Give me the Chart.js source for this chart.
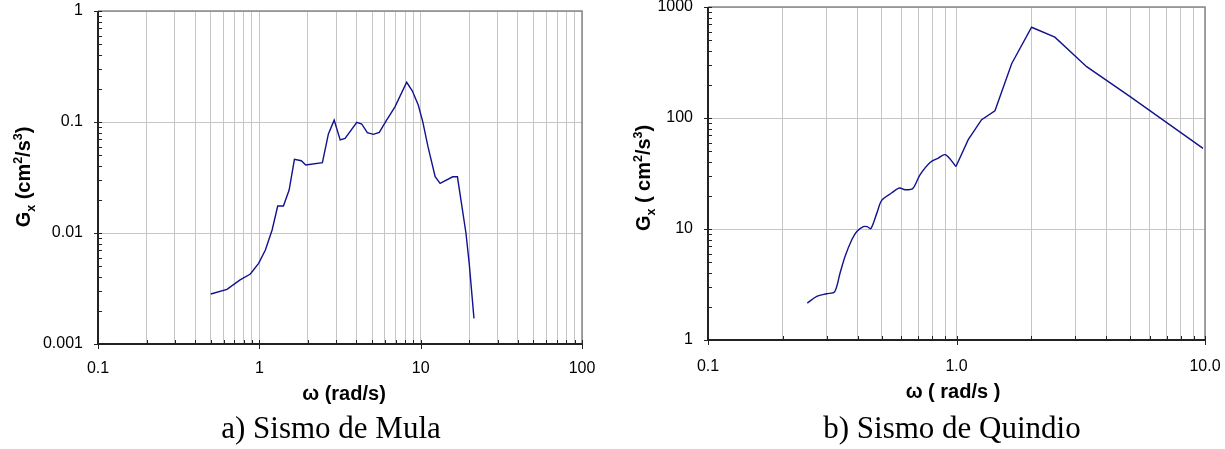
<!DOCTYPE html>
<html>
<head>
<meta charset="utf-8">
<script src="https://cdn.jsdelivr.net/npm/chart.js@4/dist/chart.umd.min.js"></script>
<style>
  body { margin: 0; background: #fff; width: 1225px; height: 449px; position: relative; overflow: hidden; }
  canvas { position: absolute; top: 0; }
  #mula { left: 0; }
  #quindio { left: 610px; }
  .caption {
    position: absolute; top: 412px; width: 400px; text-align: center; white-space: nowrap;
    font-family: "Liberation Serif", "Times New Roman", serif; font-size: 31px; line-height: 31px; color: #000;
  }
</style>
</head>
<body>
<canvas id="mula" width="610" height="449"></canvas>
<canvas id="quindio" width="615" height="449"></canvas>
<div class="caption" style="left:131px">a) Sismo de Mula</div>
<div class="caption" style="left:752px">b) Sismo de Quindio</div>
<script>
// Sismo de Mula: power spectrum Gx vs frequency
const mulaOmega = [0.50, 0.63, 0.76, 0.88, 0.99, 1.09, 1.20, 1.30, 1.41, 1.53, 1.65, 1.82, 1.94, 2.46, 2.68,
  2.91, 3.17, 3.40, 4.02, 4.31, 4.67, 5.09, 5.54, 6.15, 6.93, 8.19, 8.87, 9.66, 10.3, 11.1, 12.3, 13.2,
  15.8, 16.9, 17.9, 19.1, 20.0, 21.4];
const mulaGx = [0.00282, 0.00311, 0.00378, 0.00427, 0.00533, 0.00703, 0.01064, 0.0175, 0.0175, 0.0244, 0.0461,
  0.0448, 0.0410, 0.0430, 0.0780, 0.104, 0.0689, 0.0713, 0.0993, 0.0960, 0.0802, 0.0774, 0.0807, 0.104, 0.137,
  0.228, 0.191, 0.142, 0.1007, 0.060, 0.0321, 0.0280, 0.0321, 0.0321, 0.0185, 0.0099, 0.0053, 0.0017];

// Sismo de Quindio
const quindioOmega = [0.251, 0.274, 0.300, 0.323, 0.340, 0.356, 0.379, 0.397, 0.422, 0.437, 0.452, 0.478, 0.500,
  0.548, 0.589, 0.621, 0.667, 0.713, 0.783, 0.845, 0.902, 0.995, 1.115, 1.262, 1.428, 1.667, 2.005, 2.488,
  3.34, 4.98, 9.82];
const quindioGx = [2.15, 2.47, 2.61, 2.71, 4.02, 5.66, 8.0, 9.5, 10.5, 10.5, 10.07, 13.9, 18.1,
  21.1, 23.4, 22.6, 23.2, 30.8, 39.8, 43.6, 46.7, 36.6, 63.8, 96.5, 116.3, 308, 657, 535,
  290, 156.6, 53.3];

// axis decades and their labels
const mulaXDecades = [0.1, 1, 10, 100];
const mulaXLabels = ["0.1", "1", "10", "100"];
const mulaYDecades = [0.001, 0.01, 0.1, 1];
const mulaYLabels = ["0.001", "0.01", "0.1", "1"];
const quindioXDecades = [0.1, 1, 10];
const quindioXLabels = ["0.1", "1.0", "10.0"];
const quindioYDecades = [1, 10, 100, 1000];
const quindioYLabels = ["1", "10", "100", "1000"];

const LINE_COLOR = "#12128e";
const GRID_COLOR = "#c6c6c6";
const SANS = '"Liberation Sans", Arial, sans-serif';

function logTicks(decades) {
    let out = [];
    for (let i = 0; i < decades.length; i++) {
        out.push(decades[i]);
        if (i < decades.length - 1) {
            for (let k = 2; k <= 9; k++) out.push(+(decades[i] * k).toPrecision(3));
        }
    }
    return out;
}

function decadeIndex(decades, v) {
    return decades.findIndex(d => Math.abs(d - v) / d < 1e-6);
}

// text with sub/superscripts, centred on (cx, cy)
function drawRich(ctx, parts, cx, cy, angle, size) {
    const small = size * 0.62;
    ctx.save();
    ctx.translate(cx, cy);
    ctx.rotate(angle);
    ctx.fillStyle = "#000";
    ctx.textBaseline = "alphabetic";
    ctx.textAlign = "left";
    let w = 0;
    parts.forEach(p => {
        ctx.font = "bold " + (p.s ? small : size) + "px " + SANS;
        w += ctx.measureText(p.t).width;
    });
    let x = -w / 2;
    parts.forEach(p => {
        ctx.font = "bold " + (p.s ? small : size) + "px " + SANS;
        let dy = p.s === "sub" ? size * 0.22 : p.s === "sup" ? -size * 0.42 : 0;
        ctx.fillText(p.t, x, size * 0.36 + dy);
        x += ctx.measureText(p.t).width;
    });
    ctx.restore();
}

const framePlugin = {
    id: "frame",
    afterDraw(chart, args, opts) {
        const ctx = chart.ctx;
        const a = chart.chartArea;
        const xs = chart.scales.x, ys = chart.scales.y;
        ctx.save();
        // top and right border
        ctx.strokeStyle = "#888";
        ctx.lineWidth = 1.5;
        ctx.beginPath();
        ctx.moveTo(a.left, a.top);
        ctx.lineTo(a.right, a.top);
        ctx.lineTo(a.right, a.bottom);
        ctx.stroke();
        // tick marks
        ctx.strokeStyle = "#222";
        ctx.lineWidth = 1;
        ctx.beginPath();
        ys.ticks.forEach(t => {
            const y = Math.round(ys.getPixelForValue(t.value)) + 0.5;
            const major = decadeIndex(opts.yDecades, t.value) >= 0;
            ctx.moveTo(a.left - (major ? 4 : 0), y);
            ctx.lineTo(a.left + 4, y);
        });
        xs.ticks.forEach(t => {
            const x = Math.round(xs.getPixelForValue(t.value)) + 0.5;
            const major = decadeIndex(opts.xDecades, t.value) >= 0;
            ctx.moveTo(x, a.bottom - 4);
            ctx.lineTo(x, a.bottom + (major ? 5 : 0));
        });
        ctx.stroke();
        // left and bottom axis
        ctx.strokeStyle = "#222";
        ctx.lineWidth = 2;
        ctx.beginPath();
        ctx.moveTo(a.left, a.top);
        ctx.lineTo(a.left, a.bottom);
        ctx.lineTo(a.right, a.bottom);
        ctx.stroke();
        ctx.restore();

        drawRich(ctx, opts.yTitle, opts.yTitlePos[0], opts.yTitlePos[1], -Math.PI / 2, opts.titleSize);
        drawRich(ctx, opts.xTitle, opts.xTitlePos[0], opts.xTitlePos[1], 0, opts.titleSize);
    }
};

function lineSet(points, tension) {
    return {
        data: points,
        showLine: true,
        borderColor: LINE_COLOR,
        borderWidth: 1.4,
        pointRadius: 0,
        tension: tension,
        clip: false
    };
}

function makeChart(id, cfg) {
    const xTicks = logTicks(cfg.xDecades);
    const yTicks = logTicks(cfg.yDecades);
    const points = cfg.omega.map((w, i) => ({ x: w, y: cfg.gx[i] }));
    // low-frequency part drawn smoothed, the rest as straight segments
    const split = cfg.smoothUntil;
    const datasets = split > 0
        ? [lineSet(points.slice(0, split + 1), 0.3), lineSet(points.slice(split), 0)]
        : [lineSet(points, 0)];
    return new Chart(id, {
        type: "scatter",
        data: { datasets: datasets },
        options: {
            responsive: false,
            animation: false,
            events: [],
            layout: { padding: cfg.padding },
            plugins: {
                legend: { display: false },
                tooltip: { enabled: false },
                frame: cfg.frame
            },
            scales: {
                x: {
                    type: "logarithmic",
                    min: cfg.xDecades[0],
                    max: cfg.xDecades[cfg.xDecades.length - 1],
                    afterBuildTicks: s => { s.ticks = xTicks.map(v => ({ value: v })); },
                    afterFit: s => { s.height = cfg.xHeight; s.paddingLeft = 0; s.paddingRight = 0; },
                    border: { display: false },
                    grid: { color: GRID_COLOR, lineWidth: 1, drawTicks: false },
                    ticks: {
                        autoSkip: false, maxRotation: 0, padding: cfg.xTickPad, color: "#000",
                        font: { family: SANS, size: 16 },
                        callback: v => {
                            const i = decadeIndex(cfg.xDecades, v);
                            return i >= 0 ? cfg.xLabels[i] : "";
                        }
                    }
                },
                y: {
                    type: "logarithmic",
                    min: cfg.yDecades[0],
                    max: cfg.yDecades[cfg.yDecades.length - 1],
                    afterBuildTicks: s => { s.ticks = yTicks.map(v => ({ value: v })); },
                    afterFit: s => { s.width = cfg.yWidth; s.paddingTop = 0; s.paddingBottom = 0; },
                    border: { display: false },
                    grid: {
                        lineWidth: 1, drawTicks: false,
                        color: c => (c.tick && decadeIndex(cfg.yDecades, c.tick.value) >= 0) ? GRID_COLOR : "rgba(0,0,0,0)"
                    },
                    ticks: {
                        autoSkip: false, padding: 15, color: "#000",
                        font: { family: SANS, size: 16 },
                        callback: v => {
                            const i = decadeIndex(cfg.yDecades, v);
                            return i >= 0 ? cfg.yLabels[i] : "";
                        }
                    }
                }
            }
        },
        plugins: [framePlugin]
    });
}

makeChart("mula", {
    omega: mulaOmega, gx: mulaGx, smoothUntil: 0,
    xDecades: mulaXDecades, xLabels: mulaXLabels,
    yDecades: mulaYDecades, yLabels: mulaYLabels,
    padding: { left: 0, top: 11, right: 28, bottom: 0 },
    yWidth: 98, xHeight: 105, xTickPad: 15,
    frame: {
        xDecades: mulaXDecades, yDecades: mulaYDecades, titleSize: 20,
        yTitle: [{ t: "G" }, { t: "x", s: "sub" }, { t: " (cm" }, { t: "2", s: "sup" }, { t: "/s" }, { t: "3", s: "sup" }, { t: ")" }],
        yTitlePos: [23, 177],
        xTitle: [{ t: "\u03c9 (rad/s)" }],
        xTitlePos: [344, 393]
    }
});

makeChart("quindio", {
    omega: quindioOmega, gx: quindioGx, smoothUntil: 21,
    xDecades: quindioXDecades, xLabels: quindioXLabels,
    yDecades: quindioYDecades, yLabels: quindioYLabels,
    padding: { left: 0, top: 7, right: 20, bottom: 0 },
    yWidth: 98, xHeight: 109, xTickPad: 17,
    frame: {
        xDecades: quindioXDecades, yDecades: quindioYDecades, titleSize: 20,
        yTitle: [{ t: "G" }, { t: "x", s: "sub" }, { t: " ( cm" }, { t: "2", s: "sup" }, { t: "/s" }, { t: "3", s: "sup" }, { t: ")" }],
        yTitlePos: [33, 178],
        xTitle: [{ t: "\u03c9 ( rad/s )" }],
        xTitlePos: [343, 391]
    }
});
</script>
</body>
</html>
